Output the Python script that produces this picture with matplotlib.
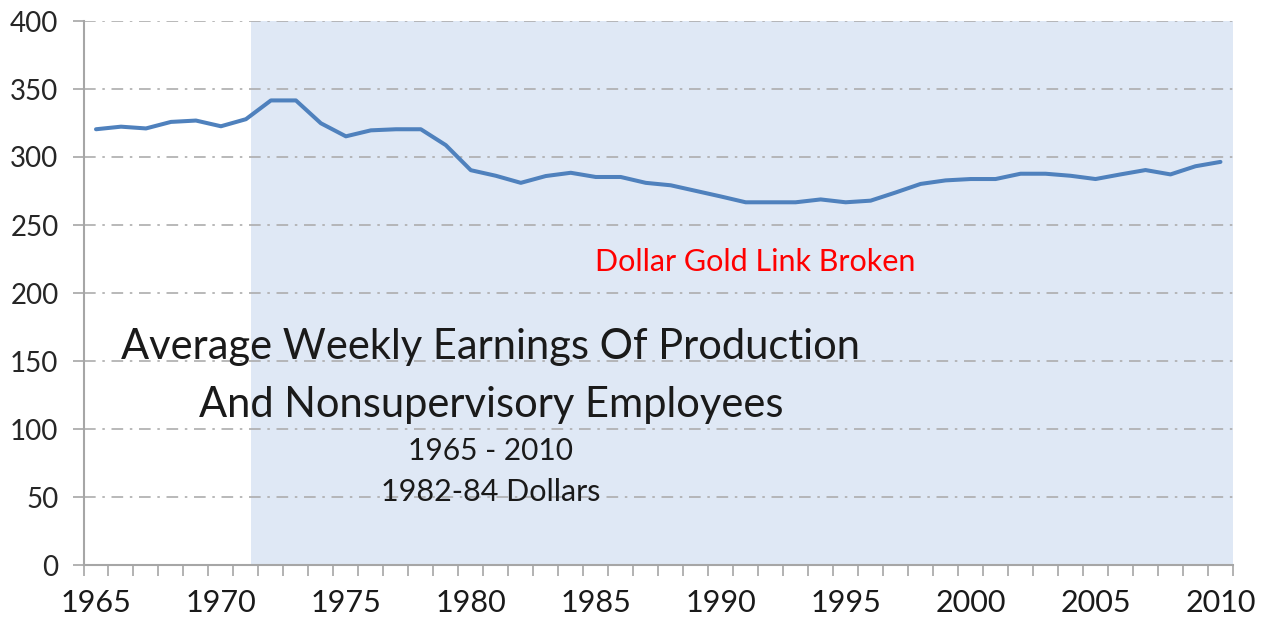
import matplotlib
matplotlib.use("Agg")
import matplotlib.pyplot as plt
import numpy as np

# Average weekly earnings, 1982-84 dollars
years = list(range(1965, 2011))
earnings = [320.4, 322.3, 321.0, 325.8, 326.8, 322.6, 327.8, 341.6, 341.6, 324.8,
            315.2, 319.6, 320.4, 320.4, 308.7, 290.3, 286.2, 281.0, 286.0, 288.4,
            285.3, 285.3, 281.0, 279.2, 275.1, 271.0, 266.7, 266.7, 266.7, 268.8,
            266.7, 267.9, 273.9, 280.2, 282.8, 283.8, 283.8, 287.7, 287.7, 286.2,
            283.8, 287.2, 290.4, 287.2, 293.2, 296.4]
shade_start = 1971.2
year_labels = [1965, 1970, 1975, 1980, 1985, 1990, 1995, 2000, 2005, 2010]
y_ticks = [0, 50, 100, 150, 200, 250, 300, 350, 400]

plt.rcParams['font.family'] = ['Lato', 'DejaVu Sans']

fig = plt.figure(figsize=(12.69, 6.25), dpi=100)
ax = fig.add_axes([0.0658, 0.096, 0.9058, 0.8704])

x0, x1 = years[0] - 0.5, years[-1] + 0.5
ax.set_xlim(x0, x1)
ax.set_ylim(0, 400)

# shaded period after the gold link was broken
ax.axvspan(shade_start, x1, color='#dfe8f5', zorder=0, lw=0)

# gridlines
for v in y_ticks[1:]:
    ax.axhline(v, color='#adadad', lw=1.2, ls=(0, (7, 4, 1.5, 4)), zorder=1)

ax.plot(years, earnings, color='#4f81bd', lw=2.9, zorder=3, solid_capstyle='round')

# axes styling
for s in ['top', 'right']:
    ax.spines[s].set_visible(False)
for s in ['left', 'bottom']:
    ax.spines[s].set_color('#a6a6a6')
    ax.spines[s].set_linewidth(1.5)

ax.set_yticks(y_ticks)
ax.set_yticklabels([str(v) for v in y_ticks], fontsize=20, color='#262626')
ax.tick_params(axis='y', length=8, width=1.2, color='#a6a6a6', pad=10)

ax.set_xticks(year_labels)
ax.set_xticklabels([str(v) for v in year_labels], fontsize=22, color='#1a1a1a')
ax.set_xticks(np.arange(x0, x1 + 0.01, 1.0), minor=True)
ax.tick_params(axis='x', which='major', length=0, pad=17)
ax.tick_params(axis='x', which='minor', length=8, width=1.2, color='#a6a6a6')

# text annotations
ax.text(1980.8, 160, 'Average Weekly Earnings Of Production', fontsize=30,
        ha='center', va='center', color='#1a1a1a')
ax.text(1980.8, 117.5, 'And Nonsupervisory Employees', fontsize=30,
        ha='center', va='center', color='#1a1a1a')
ax.text(1980.8, 84, '1965 - 2010', fontsize=21.5, ha='center', va='center', color='#1a1a1a')
ax.text(1980.8, 54, '1982-84 Dollars', fontsize=22, ha='center', va='center', color='#1a1a1a')
ax.text(1991.4, 223, 'Dollar Gold Link Broken', fontsize=22, ha='center', va='center',
        color='#ff0000')

fig.savefig('out.png', dpi=100)
